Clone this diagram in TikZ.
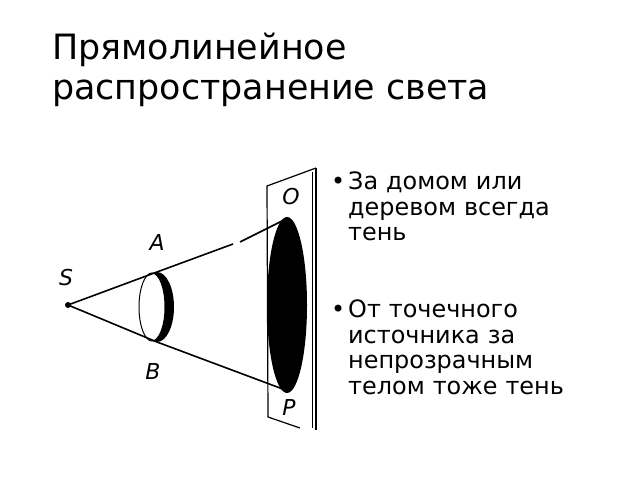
\documentclass[tikz,border=0pt]{standalone}
\usepackage{fontspec}
\setmainfont{DejaVu Sans}
\begin{document}
\begin{tikzpicture}[x=1bp,y=-1bp,
  lbl/.style={font=\itshape\fontsize{22}{22}\selectfont},
  ray/.style={line width=1.6bp},
  btxt/.style={anchor=north west,align=left,text width=300bp,font=\fontsize{24}{25.5}\selectfont,inner sep=0}]
\useasboundingbox (0,0) rectangle (640,480);
\node[anchor=north west,align=left,font=\fontsize{35}{40}\selectfont,inner sep=0] (title) at (52,33) {Прямолинейное\\распространение света};
\node[btxt] (b1) at (331,172)
 {\makebox[17bp][l]{•}За домом или\\\hspace*{17bp}деревом всегда\\\hspace*{17bp}тень};
\node[btxt] (b2) at (331,300)
 {\makebox[17bp][l]{•}От точечного\\\hspace*{17bp}источника за\\\hspace*{17bp}непрозрачным\\\hspace*{17bp}телом тоже тень};
% screen
\draw[line width=1.2bp] (316,168) -- (267,186) -- (268,417) -- (300,428);
\draw[line width=1.5bp] (316,168) -- (316,430);
\draw[line width=1bp] (312,172) -- (312,428);
\fill (287,305) ellipse (20 and 88);
% disk
\fill (157,307) ellipse (17 and 35);
\fill[white] (152,307) ellipse (13 and 34);
\draw[line width=1bp] (152,307) ellipse (13 and 34);
% rays
\coordinate (S) at (68,305);
\fill (S) circle (3);
\draw[ray] (S) -- (157,272) -- (233,244);
\draw[ray] (240,242) -- (288,218);
\draw[ray] (S) -- (157,342) -- (288,391);
\node[lbl] (Sl) at (66,278) {S};
\node[lbl] (Al) at (157,243) {A};
\node[lbl] (Bl) at (153,372) {B};
\node[lbl] (Ol) at (291,197) {O};
\node[lbl] (Pl) at (289,408) {P};
\end{tikzpicture}
\end{document}
